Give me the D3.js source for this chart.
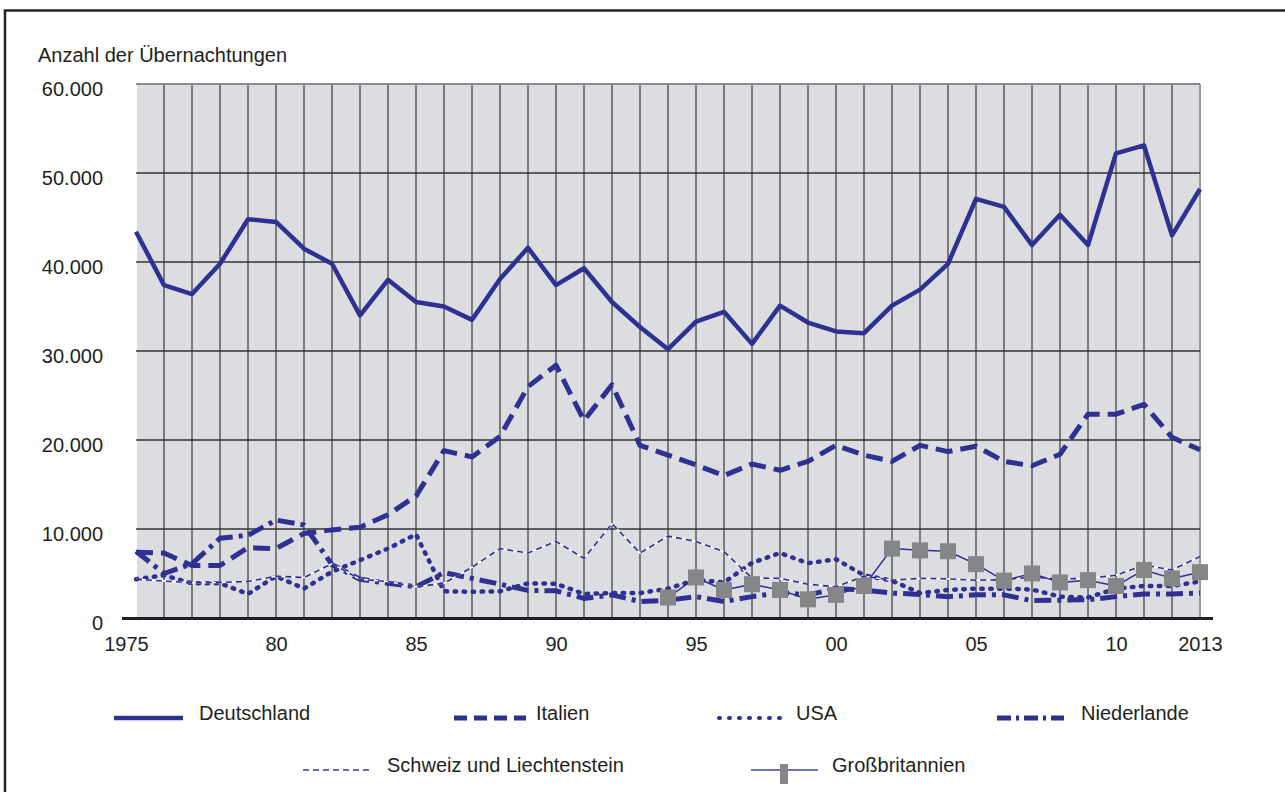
<!DOCTYPE html>
<html>
<head>
<meta charset="utf-8">
<script src="https://cdn.jsdelivr.net/npm/d3@7"></script>
<style>
  html, body { margin: 0; padding: 0; background: #fff; }
  svg { display: block; font-family: "Liberation Sans", Arial, sans-serif; }
</style>
</head>
<body>
<svg id="chart" width="1285" height="792"></svg>
<script>
// Übernachtungen nach Herkunftsland, 1975–2013
const years = [1975, 1976, 1977, 1978, 1979, 1980, 1981, 1982, 1983, 1984,
               1985, 1986, 1987, 1988, 1989, 1990, 1991, 1992, 1993, 1994,
               1995, 1996, 1997, 1998, 1999, 2000, 2001, 2002, 2003, 2004,
               2005, 2006, 2007, 2008, 2009, 2010, 2011, 2012, 2013];

const deutschland = [43400, 37400, 36400, 39800, 44800, 44500, 41500, 39800, 34000, 38000,
                     35500, 35000, 33500, 38100, 41600, 37400, 39300, 35500, 32700, 30200,
                     33300, 34400, 30800, 35100, 33200, 32200, 32000, 35100, 36900, 39800,
                     47100, 46200, 41900, 45300, 41900, 52200, 53100, 43000, 48200];

const italien = [7400, 7300, 5900, 5900, 7900, 7800, 9500, 9900, 10200, 11600,
                 13700, 18800, 18100, 20400, 26000, 28400, 22200, 26200, 19400, 18300,
                 17200, 16000, 17300, 16600, 17600, 19400, 18300, 17600, 19400, 18700,
                 19300, 17600, 17100, 18400, 22900, 22900, 24000, 20300, 18900];

const usa = [4350, 4800, 3900, 3900, 2700, 4700, 3300, 5200, 6500, 7800,
             9400, 3000, 2950, 3000, 3900, 3850, 2700, 2800, 2800, 3300,
             4300, 4000, 6200, 7300, 6150, 6600, 4800, 4200, 2800, 3150,
             3300, 3300, 3200, 2400, 2300, 3300, 3600, 3600, 4100];

const niederlande = [7500, 5000, 6100, 8950, 9300, 11000, 10450, 6000, 4350, 3900,
                     3500, 5100, 4450, 3800, 3100, 3050, 2200, 2600, 1850, 2000,
                     2400, 1850, 2400, 2850, 2600, 3300, 3150, 2800, 2650, 2400,
                     2600, 2600, 1950, 2000, 2050, 2400, 2700, 2700, 2800];

const schweiz = [4350, 4150, 3950, 4000, 4100, 4700, 4550, 6100, 4350, 4100,
                 3500, 3900, 5700, 7800, 7300, 8600, 6700, 10600, 7300, 9200,
                 8600, 7450, 4500, 4450, 3800, 3500, 4700, 4250, 4450, 4400,
                 4250, 4300, 4600, 4400, 4450, 4800, 5950, 5400, 6900];

// Großbritannien erst ab 1994 erfasst
const grossbritannien = [null, null, null, null, null, null, null, null, null, null,
                         null, null, null, null, null, null, null, null, null, 2300,
                         4550, 3150, 3800, 3150, 2100, 2600, 3600, 7800, 7600, 7500,
                         6050, 4200, 5000, 4000, 4250, 3600, 5400, 4450, 5150];

const yTicks = [0, 10000, 20000, 30000, 40000, 50000, 60000];
const yTickLabels = ["0", "10.000", "20.000", "30.000", "40.000", "50.000", "60.000"];
const xTickYears = [1975, 1980, 1985, 1990, 1995, 2000, 2005, 2010, 2013];
const xTickLabels = ["1975", "80", "85", "90", "95", "00", "05", "10", "2013"];

const svg = d3.select("#chart");
const BLUE = "#2e3192";
const TEXT = "#231f20";

// outer frame
svg.append("rect")
  .attr("x", 5).attr("y", 10.5)
  .attr("width", 1300).attr("height", 800)
  .attr("fill", "none").attr("stroke", "#222").attr("stroke-width", 2.5);

const x = d3.scaleLinear().domain([1975, 2013]).range([136, 1200]);
const y = d3.scaleLinear().domain([0, 60000]).range([618, 84]);

// plot background
svg.append("rect")
  .attr("x", x(1975)).attr("y", y(60000))
  .attr("width", x(2013) - x(1975)).attr("height", y(0) - y(60000))
  .attr("fill", "#dcdde0");

// vertical grid, one line per year
svg.append("g").selectAll("line")
  .data(years)
  .join("line")
  .attr("x1", d => x(d)).attr("x2", d => x(d))
  .attr("y1", y(60000)).attr("y2", y(0))
  .attr("stroke", d => d === 1975 ? "#ffffff" : (d === 2013 ? "#9a9a9a" : "#7a7a7a"))
  .attr("stroke-width", 2);

// horizontal grid
svg.append("g").selectAll("line")
  .data(yTicks.filter(d => d > 0))
  .join("line")
  .attr("x1", x(1975)).attr("x2", x(2013))
  .attr("y1", d => y(d)).attr("y2", d => y(d))
  .attr("stroke", d => d === 60000 ? "#8a8a8a" : "#333")
  .attr("stroke-width", d => d === 60000 ? 2 : 1.3);

// axis baseline
svg.append("line")
  .attr("x1", 122).attr("x2", 1213)
  .attr("y1", y(0) + 0.5).attr("y2", y(0) + 0.5)
  .attr("stroke", "#231f20").attr("stroke-width", 3);

// axes (labels only)
const xAxis = svg.append("g")
  .attr("transform", `translate(0,${y(0)})`)
  .call(d3.axisBottom(x).tickValues(xTickYears)
    .tickFormat((d, i) => xTickLabels[i]).tickSize(0).tickPadding(19));
xAxis.select(".domain").remove();
xAxis.selectAll("text")
  .attr("font-size", 20).attr("fill", TEXT).attr("font-family", null)
  .attr("dx", d => d === 1975 ? -10 : 0);

const yAxis = svg.append("g")
  .attr("transform", `translate(${x(1975)},0)`)
  .call(d3.axisLeft(y).tickValues(yTicks)
    .tickFormat((d, i) => yTickLabels[i]).tickSize(0).tickPadding(33));
yAxis.select(".domain").remove();
yAxis.selectAll("text")
  .attr("font-size", 20).attr("fill", TEXT).attr("font-family", null)
  .attr("dy", "0.55em");

svg.append("text")
  .attr("x", 38).attr("y", 62)
  .attr("font-size", 20).attr("fill", TEXT)
  .text("Anzahl der Übernachtungen");

// series
const line = d3.line()
  .defined(d => d.v != null)
  .x(d => x(d.year))
  .y(d => y(d.v));

const toPts = arr => years.map((yr, i) => ({ year: yr, v: arr[i] }));

const series = [
  { name: "Deutschland", values: deutschland, width: 4.5, dash: null, cap: "butt" },
  { name: "Italien", values: italien, width: 5, dash: "17,8", cap: "butt" },
  { name: "USA", values: usa, width: 4.5, dash: "1.5,7.5", cap: "round" },
  { name: "Niederlande", values: niederlande, width: 5, dash: "17,6,4,6", cap: "butt" }
];

const gLines = svg.append("g").attr("fill", "none").attr("stroke-linejoin", "round");

series.forEach(s => {
  gLines.append("path")
    .datum(toPts(s.values))
    .attr("d", line)
    .attr("stroke", BLUE)
    .attr("stroke-width", s.width)
    .attr("stroke-linecap", s.cap)
    .attr("stroke-dasharray", s.dash);
});

// Schweiz und Liechtenstein: thin dashed line over a white underlay
gLines.append("path")
  .datum(toPts(schweiz))
  .attr("d", line)
  .attr("stroke", "#ffffff")
  .attr("stroke-width", 1.5);
gLines.append("path")
  .datum(toPts(schweiz))
  .attr("d", line)
  .attr("stroke", BLUE)
  .attr("stroke-width", 1.6)
  .attr("stroke-dasharray", "6,4");

// Großbritannien: thin line with grey square markers
const gbPts = toPts(grossbritannien);
gLines.append("path")
  .datum(gbPts)
  .attr("d", line)
  .attr("stroke", BLUE)
  .attr("stroke-width", 1.5);

svg.append("g").selectAll("rect")
  .data(gbPts.filter(d => d.v != null))
  .join("rect")
  .attr("x", d => x(d.year) - 8)
  .attr("y", d => y(d.v) - 8)
  .attr("width", 16).attr("height", 16)
  .attr("fill", "#858688");

// legend
const legend = svg.append("g");
const legendItems = [
  { name: "Deutschland", x1: 114, x2: 183, ty: 720, tx: 199, width: 4.5, dash: null, cap: "butt", color: BLUE },
  { name: "Italien", x1: 454, x2: 526, ty: 720, tx: 536, width: 5, dash: "13,7", cap: "butt", color: BLUE },
  { name: "USA", x1: 719, x2: 784, ty: 720, tx: 796, width: 4, dash: "1,9", cap: "round", color: BLUE },
  { name: "Niederlande", x1: 997, x2: 1064, ty: 720, tx: 1081, width: 5, dash: "14,5,3,5", cap: "butt", color: BLUE },
  { name: "Schweiz und Liechtenstein", x1: 303, x2: 371, ty: 772, tx: 387, width: 2, dash: "6,4", cap: "butt", color: "#6a6abb" },
  { name: "Großbritannien", x1: 751, x2: 818, ty: 772, tx: 832, width: 2, dash: null, cap: "butt", color: "#7272bb" }
];

legendItems.forEach(it => {
  const ly = it.ty - 2;
  legend.append("line")
    .attr("x1", it.x1).attr("x2", it.x2)
    .attr("y1", ly).attr("y2", ly)
    .attr("stroke", it.color)
    .attr("stroke-width", it.width)
    .attr("stroke-linecap", it.cap)
    .attr("stroke-dasharray", it.dash);
  legend.append("text")
    .attr("x", it.tx).attr("y", it.ty)
    .attr("font-size", 20).attr("fill", TEXT)
    .text(it.name);
});

// marker symbol for Großbritannien
legend.append("rect")
  .attr("x", 780).attr("y", 764)
  .attr("width", 8).attr("height", 20)
  .attr("fill", "#858688");
</script>
</body>
</html>
